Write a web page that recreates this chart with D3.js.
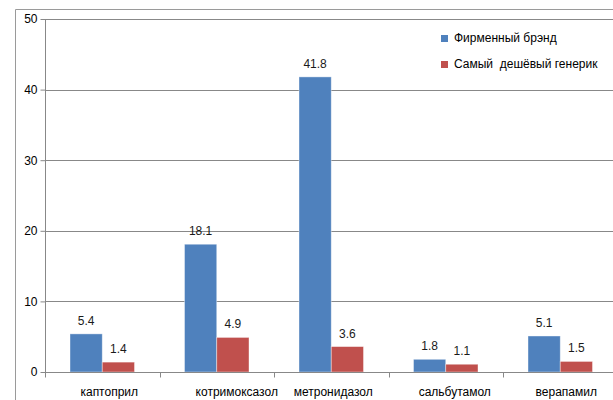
<!DOCTYPE html>
<html><head><meta charset="utf-8">
<script src="https://cdn.jsdelivr.net/npm/d3@7"></script>
<style>body{margin:0;background:#fff}svg{display:block}text{font-family:"Liberation Sans",Arial,sans-serif}</style>
</head><body>
<script>
const categories = ["каптоприл","котримоксазол","метронидазол","сальбутамол","верапамил"];
const seriesNames = ["Фирменный брэнд","Самый  дешёвый генерик"];
const brandValues = [5.4, 18.1, 41.8, 1.8, 5.1];
const genericValues = [1.4, 4.9, 3.6, 1.1, 1.5];
const yTicks = [0,10,20,30,40,50];
const colors = ["#4f81bd","#c0504d"];

const W=613,H=400;
const labelShift=[7,20,2,9,6]; // layout nudges of category labels as in the source image
const svg=d3.select("body").append("svg").attr("width",W).attr("height",H);
// outer frame
svg.append("path").attr("d","M15.5,400V9.5H613").attr("fill","none").attr("stroke","#9a9a9a").attr("stroke-width",1);

const y=d3.scaleLinear().domain([0,50]).range([372,19]);
const x=d3.scaleBand().domain(categories).range([45,617.5]).padding(0);
const x1=d3.scaleBand().domain([0,1]).range([25,x.bandwidth()-25]).padding(0);

// gridlines
svg.append("g").selectAll("line").data(yTicks.slice(1)).join("line")
 .attr("x1",45).attr("x2",W).attr("y1",d=>Math.round(y(d))+0.5).attr("y2",d=>Math.round(y(d))+0.5)
 .attr("stroke","#888").attr("stroke-width",1);

// y axis
const yAxis=svg.append("g").attr("transform","translate(45.5,0)")
 .call(d3.axisLeft(y).tickValues(yTicks).tickSize(5).tickPadding(3).tickFormat(d3.format("d")));
yAxis.select(".domain").attr("stroke","#888").attr("d","M0,"+y(50)+"V"+y(0));
yAxis.selectAll(".tick line").attr("stroke","#888");
yAxis.selectAll(".tick text").attr("font-size",12).attr("fill","#000");

// bars
const data=[brandValues,genericValues];
data.forEach((vals,si)=>{
  svg.append("g").selectAll("rect").data(vals).join("rect")
   .attr("x",(d,i)=>x(categories[i])+x1(si))
   .attr("width",x1.bandwidth())
   .attr("y",d=>y(d)).attr("height",d=>y(0)-y(d))
   .attr("fill",colors[si]).attr("stroke","rgba(255,255,255,0.5)").attr("stroke-width",0.8);
  svg.append("g").selectAll("text").data(vals).join("text")
   .attr("x",(d,i)=>x(categories[i])+x1(si)+x1.bandwidth()/2)
   .attr("y",d=>y(d)-9)
   .attr("text-anchor","middle").attr("font-size",12).attr("fill","#1a1a1a")
   .text(d=>d3.format(".1f")(d));
});

// x axis
const xAxis=svg.append("g").attr("transform","translate(0,"+(y(0)+0.5)+")");
xAxis.append("line").attr("x1",45).attr("x2",W).attr("stroke","#888");
const bounds=categories.map(c=>x(c)).concat([x.range()[1]]);
xAxis.selectAll("line.tk").data(bounds).join("line").attr("class","tk")
 .attr("x1",d=>Math.round(d)+0.5).attr("x2",d=>Math.round(d)+0.5).attr("y1",0).attr("y2",5).attr("stroke","#888");
xAxis.selectAll("text").data(categories).join("text")
 .attr("x",(d,i)=>x(d)+x.bandwidth()/2+labelShift[i]).attr("y",23)
 .attr("text-anchor","middle").attr("font-size",12).attr("fill","#000").text(d=>d);

// legend
const lg=svg.append("g").attr("transform","translate(441,0)");
seriesNames.forEach((n,i)=>{
  const yy=35+i*26;
  lg.append("rect").attr("x",0).attr("y",yy).attr("width",7).attr("height",7).attr("fill",colors[i]);
  lg.append("text").attr("x",13).attr("y",yy+7).attr("font-size",12).attr("fill","#000")
   .style("white-space","pre").attr("xml:space","preserve").text(n);
});
</script>
</body></html>
